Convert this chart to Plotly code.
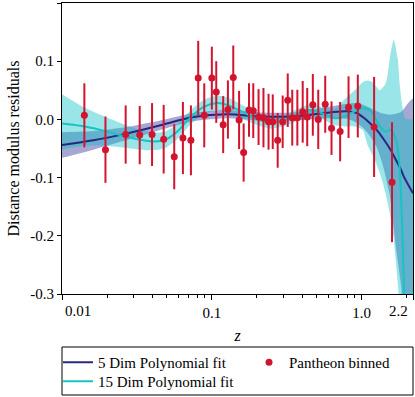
import math
import plotly.graph_objects as go

# ---- Pantheon binned data ----
z_data = [0.0141, 0.0195, 0.0266, 0.0330, 0.0399, 0.0477, 0.0561, 0.0641, 0.0725, 0.0811,
          0.0890, 0.1000, 0.107, 0.119, 0.128, 0.139, 0.152, 0.163, 0.177, 0.189,
          0.205, 0.221, 0.239, 0.255, 0.275, 0.297, 0.321, 0.344, 0.372, 0.404,
          0.433, 0.472, 0.513, 0.571, 0.629, 0.718, 0.817, 0.942, 1.21, 1.594]
res_data = [0.007, -0.052, -0.026, -0.027, -0.026, -0.034, -0.064, -0.032, -0.036, 0.071,
            0.007, 0.071, 0.047, -0.009, 0.017, 0.072, -0.001, -0.057, 0.016, 0.015,
            0.004, 0.003, -0.004, -0.004, -0.036, -0.004, 0.033, 0.003, 0.003, 0.013,
            0.004, 0.025, 0.000, 0.026, -0.015, -0.021, 0.021, 0.023, -0.013, -0.108]
err_data = [0.055, 0.057, 0.050, 0.050, 0.054, 0.059, 0.056, 0.062, 0.060, 0.064,
            0.055, 0.054, 0.053, 0.049, 0.050, 0.055, 0.050, 0.050, 0.046, 0.047,
            0.048, 0.051, 0.048, 0.047, 0.047, 0.045, 0.046, 0.048, 0.048, 0.053,
            0.050, 0.053, 0.051, 0.049, 0.046, 0.051, 0.053, 0.054, 0.086, 0.103]

# ---- 5 Dim polynomial fit ----
z_fit5 = [0.0100, 0.0162, 0.0273, 0.0453, 0.0751, 0.1264, 0.2098, 0.3478, 0.6133, 0.7959,
          0.9277, 1.017, 1.132, 1.260, 1.382, 1.539, 1.712, 1.84, 1.907, 2.2]
fit5 = [-0.044, -0.036, -0.024, -0.010, 0.004, 0.009, 0.005, 0.005, 0.012, 0.014,
        0.011, 0.004, -0.006, -0.018, -0.032, -0.050, -0.072, -0.088, -0.098, -0.127]
fit5_lo = [-0.066, -0.052, -0.035, -0.018, -0.003, 0.002, -0.002, -0.002, 0.002, 0.001,
           -0.006, -0.014, -0.028, -0.048, -0.078, -0.130, -0.230, -0.29, -0.36, -0.55]
fit5_hi = [-0.022, -0.020, -0.013, -0.002, 0.011, 0.016, 0.012, 0.012, 0.022, 0.027,
           0.028, 0.025, 0.020, 0.014, 0.010, 0.008, 0.010, 0.013, 0.018, 0.036]

# ---- 15 Dim polynomial fit ----
z_fit15 = [0.0100, 0.01328, 0.01804, 0.02452, 0.03332, 0.04067, 0.04887, 0.05875, 0.0717, 0.08753,
           0.1085, 0.1264, 0.1543, 0.1884, 0.2264, 0.2521, 0.3171, 0.3871, 0.4514, 0.5508,
           0.6622, 0.7718, 0.8997, 1.017, 1.098, 1.186, 1.320, 1.447, 1.562, 1.637,
           1.739, 1.794, 1.849, 1.907, 1.936]
fit15 = [-0.007, -0.011, -0.018, -0.027, -0.035, -0.038, -0.035, -0.021, 0.003, 0.021,
         0.028, 0.025, 0.015, 0.004, -0.004, -0.006, 0.000, 0.010, 0.016, 0.010,
         0.002, 0.005, 0.014, 0.019, 0.018, 0.010, -0.012, -0.021, -0.018, -0.025,
         -0.050, -0.085, -0.160, -0.270, -0.340]
fit15_lo = [-0.052, -0.046, -0.045, -0.048, -0.052, -0.053, -0.049, -0.034, -0.009, 0.009,
            0.015, 0.012, 0.003, -0.007, -0.014, -0.016, -0.010, 0.000, 0.006, 0.000,
            -0.010, -0.012, -0.012, -0.018, -0.045, -0.062, -0.092, -0.128, -0.170, -0.205,
            -0.280, -0.330, -0.420, -0.500, -0.550]
fit15_hi = [0.043, 0.024, 0.008, -0.006, -0.018, -0.023, -0.021, -0.008, 0.015, 0.033,
            0.041, 0.038, 0.027, 0.015, 0.006, 0.004, 0.010, 0.020, 0.026, 0.021,
            0.018, 0.035, 0.050, 0.064, 0.067, 0.064, 0.050, 0.062, 0.115, 0.137,
            0.105, 0.060, 0.030, 0.010, 0.003]
z_fit15_tail = [1.936, 2.05, 2.2]
fit15_tail_lo = [-0.550, -0.7, -0.9]
fit15_tail_hi = [0.003, 0.0, 0.0]

x_tickvals = [0.01, 0.1, 1.0, 2.2]
x_ticktext = ["", "0.1", "1.0", ""]
x_end_labels = [(0, "0.01", "left", 1), (1, "2.2", "right", -3)]
x_minor = [0.02, 0.03, 0.04, 0.05, 0.06, 0.07, 0.08, 0.09,
           0.2, 0.3, 0.4, 0.5, 0.6, 0.7, 0.8, 0.9, 2.0]
y_tickvals = [0.2, 0.1, 0.0, -0.1, -0.2, -0.3]
y_ticktext = ["0.2", "0.1", "0.0", "-0.1", "-0.2", "-0.3"]

NAVY = "#27277f"
CYAN = "#17c3c3"
RED = "#d3142f"
BAND5 = "rgba(60,60,160,0.45)"
BAND15 = "rgba(0,190,195,0.40)"
FONT = "Liberation Serif, Times New Roman, serif"
FS = 15

W, H = 415, 397
ML, MR, MT, MB = 62, 2, 3, 103
PH = H - MT - MB


def py2paper(py):
    return (H - MB - py) / PH


def px2paper(px):
    return (px - ML) / (W - ML - MR)


fig = go.Figure()

fig.add_trace(go.Scatter(
    x=z_fit5 + z_fit5[::-1], y=fit5_hi + fit5_lo[::-1],
    fill="toself", fillcolor=BAND5, line=dict(width=0, shape="spline", smoothing=0.6),
    mode="lines", showlegend=False, hoverinfo="skip"))

zb = z_fit15 + z_fit15_tail[1:]
hb = fit15_hi + fit15_tail_hi[1:]
lb = fit15_lo + fit15_tail_lo[1:]
fig.add_trace(go.Scatter(
    x=zb + zb[::-1], y=hb + lb[::-1],
    fill="toself", fillcolor=BAND15, line=dict(width=0, shape="spline", smoothing=0.6),
    mode="lines", showlegend=False, hoverinfo="skip"))

fig.add_trace(go.Scatter(
    x=z_fit5, y=fit5, mode="lines", name="5 Dim Polynomial fit",
    line=dict(color=NAVY, width=2, shape="spline", smoothing=0.8), legend="legend"))

fig.add_trace(go.Scatter(
    x=z_fit15, y=fit15, mode="lines", name="15 Dim Polynomial fit",
    line=dict(color=CYAN, width=2, shape="spline", smoothing=0.8), legend="legend3"))

fig.add_trace(go.Scatter(
    x=z_data, y=res_data, mode="markers", name="Pantheon binned",
    marker=dict(color=RED, size=7),
    error_y=dict(type="data", array=err_data, color=RED, thickness=2, width=0),
    legend="legend2"))

for xv, txt, anchor, shift in x_end_labels:
    fig.add_annotation(
        x=xv, xref="paper", y=0, yref="paper", text=txt, showarrow=False,
        xanchor=anchor, yanchor="top", yshift=-7, xshift=shift,
        font=dict(family=FONT, size=FS, color="black"))

# legend frame
fig.add_shape(type="rect", xref="paper", yref="paper",
              x0=0, x1=1, y0=py2paper(395), y1=py2paper(347),
              line=dict(color="black", width=1), fillcolor="rgba(0,0,0,0)", layer="above")

leg_common = dict(orientation="v", xanchor="left", yanchor="top", borderwidth=0,
                  bgcolor="rgba(0,0,0,0)", font=dict(family=FONT, size=FS))
fig.update_layout(
    width=W, height=H,
    margin=dict(l=ML, r=MR, t=MT, b=MB, autoexpand=False),
    paper_bgcolor="white", plot_bgcolor="white",
    font=dict(family=FONT, size=FS, color="black"),
    showlegend=True,
    legend=dict(x=px2paper(58), y=py2paper(346), **leg_common),
    legend2=dict(x=px2paper(249), y=py2paper(346), **leg_common),
    legend3=dict(x=px2paper(58), y=py2paper(365), **leg_common),
)

fig.update_xaxes(
    type="log", range=[-2, math.log10(2.2)], automargin=False,
    tickvals=x_tickvals, ticktext=x_ticktext,
    ticks="outside", ticklen=5, tickwidth=1, tickcolor="black",
    minor=dict(tickvals=x_minor, ticks="outside", ticklen=3, tickwidth=1, tickcolor="black"),
    showline=True, linecolor="black", linewidth=1.2, mirror=True,
    showgrid=False, zeroline=False,
    title=dict(text="<i>z</i>", font=dict(family=FONT, size=16), standoff=9),
)
fig.update_yaxes(
    range=[-0.3, 0.2], automargin=False,
    tickvals=y_tickvals, ticktext=y_ticktext,
    ticks="outside", ticklen=4, tickwidth=1, tickcolor="black",
    showline=True, linecolor="black", linewidth=1.2, mirror=True,
    showgrid=False, zeroline=False,
    title=dict(text="Distance modulus residuals", font=dict(family=FONT, size=16), standoff=6),
)

fig.write_html("out.html", config={"displayModeBar": False},
               post_script="document.body.style.margin='0';")
